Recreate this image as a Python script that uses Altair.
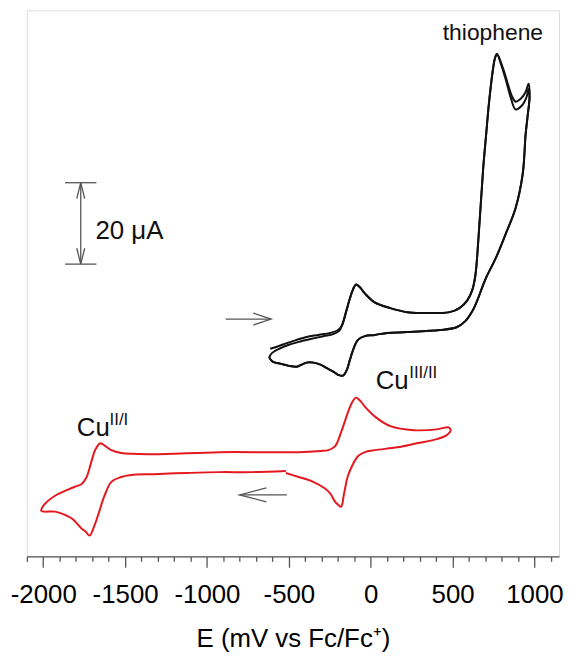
import altair as alt
import pandas as pd

# ---------------- data (E in mV vs Fc/Fc+, I in microamps, arbitrary zero) -------------
RED_E = [-518, -723, -922, -1120, -1325, -1464, -1524, -1584, -1626, -1662, -1687, -1717,
         -1741, -1765, -1825, -1886, -1928, -1994, -2012, -1994, -1928, -1867, -1807, -1765,
         -1735, -1705, -1681, -1651, -1620, -1584, -1524, -1343, -922, -440, -307, -259,
         -217, -181, -139, -114, -90, -66, -36, 24, 120, 265, 404, 476, 488, 464, 404, 283,
         163, 24, -36, -78, -108, -139, -163, -181, -199, -217, -247, -277, -361, -440, -518]
RED_I = [21.0, 20.7, 20.7, 20.5, 20.2, 20.0, 19.5, 18.3, 14.9, 10.5, 7.6, 5.1,
         6.1, 6.8, 9.3, 10.5, 11.0, 11.0, 11.2, 12.7, 14.9, 16.1, 17.1, 17.8,
         19.5, 23.4, 26.3, 27.8, 27.1, 26.1, 25.4, 25.1, 25.6, 25.6, 25.9, 26.1,
         27.1, 30.5, 35.4, 37.8, 39.0, 38.3, 36.8, 34.4, 32.0, 31.0, 31.2, 31.7, 31.0, 29.8, 28.8, 27.8,
         26.8, 26.1, 25.6, 24.6, 22.7, 19.8, 15.4, 12.2, 12.7, 13.4, 15.4, 16.6, 18.5, 19.5, 20.5]

CYC1_E = [-614, -560, -512, -452, -392, -319, -247, -199, -175, -151, -127, -108, -90, -66,
          -36, 24, 120, 223, 325, 422, 482, 542, 590, 620, 639, 657, 687, 705, 723, 747, 759, 771,
          807, 837, 861, 885, 916, 946, 964, 970, 958, 946, 928, 885, 825, 765, 705, 681, 651,
          620, 578, 524, 422, 223, 102, 24, -36, -78, -108, -127, -145, -169, -199, -229, -271,
          -307, -349, -392, -422, -452, -500, -548, -596, -614, -620]
CYC1_I = [51.0, 51.7, 52.4, 53.2, 53.9, 54.4, 54.9, 55.6, 56.8, 60.0, 63.4, 65.6, 66.8, 66.1,
          64.6, 62.4, 61.0, 60.0, 59.8, 59.8, 60.0, 61.0, 62.9, 65.4, 69.0, 77.6, 95.4, 103.7, 111.7, 119.8, 122.4, 123.4,
          120.0, 116.1, 113.2, 111.7, 112.4, 114.1, 116.1, 112.9, 108.1, 103.7, 93.9, 85.6, 79.3, 73.4, 68.5, 66.1, 62.9,
          60.2, 57.8, 56.3, 55.6, 55.1, 54.9, 54.4, 54.1, 53.2, 50.7, 48.3, 45.9, 44.4, 44.6, 45.4, 46.3,
          47.1, 47.6, 47.6, 47.1, 46.6, 46.8, 47.3, 47.8, 48.5, 49.0]

CYC2_E = [-620, -602, -560, -500, -440, -367, -289, -229, -193,
          -175, -151, -127, -108, -90, -66, -36, 24, 120, 223, 325, 422, 482, 542, 590, 620, 639, 657,
          687, 705, 723, 747, 759, 771,
          795, 825, 855, 885, 922, 952, 964,
          970, 958, 946, 928, 885, 825, 765, 705, 681, 651, 620, 578, 524, 422, 223, 102, 24, -36,
          -78, -108, -127, -145, -169, -199, -229, -271, -307, -349, -392, -422, -452, -500, -548,
          -596, -614, -620]
CYC2_I = [49.0, 50.0, 51.0, 52.0, 52.7, 53.4, 54.1, 54.6, 55.4,
          56.8, 60.0, 63.4, 65.6, 66.8, 66.1, 64.6, 62.4, 61.0, 60.0, 59.8, 59.8, 60.0, 61.0, 62.9, 65.4, 69.0, 77.6,
          95.4, 103.7, 111.7, 119.8, 122.4, 123.4,
          121.0, 117.1, 112.7, 109.8, 110.7, 112.9, 114.9,
          112.9, 108.1, 103.7, 93.9, 85.6, 79.3, 73.4, 68.5, 66.1, 62.9, 60.2, 57.8, 56.3, 55.6, 55.1, 54.9, 54.4, 54.1,
          53.2, 50.7, 48.3, 45.9, 44.4, 44.6, 45.4, 46.3, 47.1, 47.6, 47.6, 47.1, 46.6, 46.8, 47.3,
          47.8, 48.5, 49.0]

TICKS = list(range(-2100, 1101, 100))

# annotation anchors (data coordinates)
LABEL_TEXT = ["thiophene", "Cu", "III/II", "Cu", "II/I", "20 μA"]
LABEL_E = [440, 30, 235, -1795, -1595, -1681]
LABEL_I = [126.8, 41.0, 43.9, 29.5, 32.4, 78.0]
LABEL_FS = [23, 26, 17, 26, 17, 26]

BAR_E = [-1771, -1867, -1867]
BAR_E2 = [-1771, -1675, -1675]
BAR_I = [71.8, 91.8, 71.8]
BAR_I2 = [91.8, 91.8, 71.8]

ARROW_E = [-885, -801]
ARROW_E2 = [-608, -512]
ARROW_I = [58.3, 15.1]

HEAD_KIND = ["right", "left", "up", "down"]
HEAD_E = [-608, -801, -1771, -1771]
HEAD_I = [58.3, 15.1, 91.8, 71.8]

# ---------------- tables ----------------
rows = []
for name, es, is_ in [("red", RED_E, RED_I), ("black1", CYC1_E, CYC1_I), ("black2", CYC2_E, CYC2_I)]:
    for k, (e, i) in enumerate(zip(es, is_)):
        rows.append({"series": name, "i": k, "E": e, "I": i})
curves = pd.DataFrame(rows)

labels = pd.DataFrame({"text": LABEL_TEXT, "E": LABEL_E, "I": LABEL_I, "fs": LABEL_FS})
segs = pd.DataFrame({"E": BAR_E + ARROW_E, "E2": BAR_E2 + ARROW_E2,
                     "I": BAR_I + ARROW_I, "I2": BAR_I2 + ARROW_I})
heads = pd.DataFrame({"kind": HEAD_KIND, "E": HEAD_E, "I": HEAD_I})

FONT = "Liberation Sans"
xscale = alt.Scale(domain=[-2100, 1150], nice=False, zero=False)
yscale = alt.Scale(domain=[0, 134.15], nice=False, zero=False)
xaxis = alt.Axis(
    values=TICKS,
    labelExpr="datum.value % 500 === 0 ? '' + datum.value : ''",
    tickSize={"condition": {"test": "datum.value % 500 === 0", "value": 11}, "value": 5},
    labelOverlap=False, labelBound=False, labelFlush=False,
    labelFont=FONT, labelFontSize=26, labelColor="#000", labelPadding=14,
    domainColor="#555", tickColor="#555", domainWidth=1.3, tickWidth=1.3,
    grid=False, title="E (mV vs Fc/Fc⁺)", titleFont=FONT, titleFontSize=26,
    titleFontWeight="normal", titleColor="#000", titlePadding=19,
)

def X(field="E"):
    return alt.X(f"{field}:Q", scale=xscale, axis=xaxis)

def Y(field="I"):
    return alt.Y(f"{field}:Q", scale=yscale, axis=None)

lines = alt.Chart(curves).mark_line(interpolate="catmull-rom", strokeWidth=2).encode(
    x=X(), y=Y(), detail="series:N", order="i:Q",
    color=alt.Color("series:N", legend=None,
                    scale=alt.Scale(domain=["red", "black1", "black2"],
                                    range=["#e3191f", "#111111", "#111111"])),
)

rules = alt.Chart(segs).mark_rule(color="#555", strokeWidth=1.3).encode(
    x=X(), x2="E2:Q", y=Y(), y2="I2:Q")

head_paths = {
    "right": "M -0.9 -0.3 L 0 0 L -0.9 0.3",
    "left": "M 1.35 -0.35 L 0 0 L 1.35 0.35",
    "up": "M -0.2 0.8 L 0 0 L 0.2 0.8",
    "down": "M -0.2 -0.8 L 0 0 L 0.2 -0.8",
}
arrowheads = alt.Chart(heads).mark_point(filled=False, color="#555", strokeWidth=1.3,
                                         size=1600, opacity=1).encode(
    x=X(), y=Y(),
    shape=alt.Shape("kind:N", legend=None,
                    scale=alt.Scale(domain=list(head_paths.keys()),
                                    range=list(head_paths.values()))),
)

texts = alt.Chart(labels).mark_text(align="left", baseline="alphabetic", font=FONT,
                                    color="#111").encode(
    x=X(), y=Y(), text="text:N", size=alt.Size("fs:Q", scale=None, legend=None))

chart = alt.layer(lines, rules, arrowheads, texts).properties(
    width=536, height=550,
    autosize=alt.AutoSizeParams(type="none"),
    padding={"left": 19, "top": 0, "right": 4, "bottom": 99},
).configure_view(stroke=None).configure(background="white")

chart.save("out.html", embed_options={"renderer": "svg", "actions": False})
